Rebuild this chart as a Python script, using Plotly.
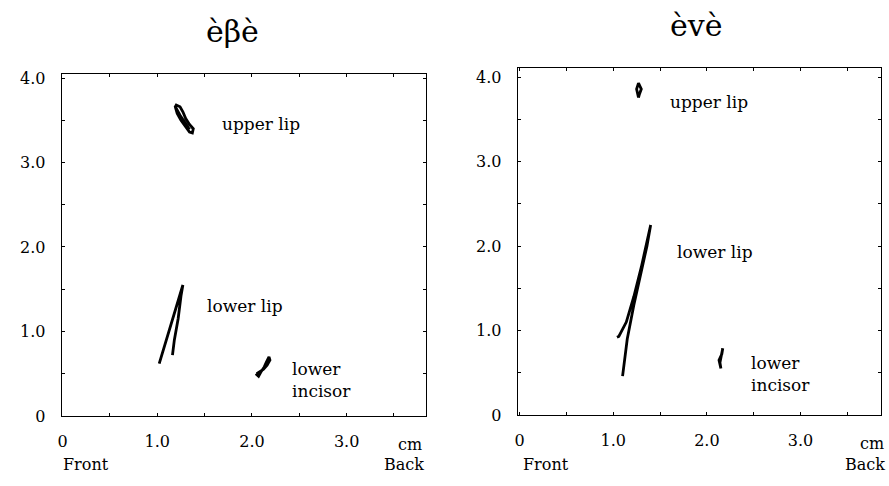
import plotly.graph_objects as go

# ---- data (cm) ----
titles = ["èβè", "èvè"]
xtick_vals = [0, 0.5, 1, 1.5, 2, 2.5, 3, 3.5]
xtick_text = ["0", "", "1.0", "", "2.0", "", "3.0", ""]
ytick_vals = [0, 0.5, 1, 1.5, 2, 2.5, 3, 3.5, 4]
ytick_text = ["0", "", "1.0", "", "2.0", "", "3.0", "", "4.0"]

# left panel (èβè)
b_upper_x = [1.19, 1.21, 1.25, 1.30, 1.34, 1.37, 1.38, 1.34, 1.30, 1.27, 1.24, 1.20, 1.19, 1.24, 1.29, 1.34]
b_upper_y = [3.66, 3.58, 3.50, 3.42, 3.36, 3.35, 3.40, 3.45, 3.52, 3.60, 3.66, 3.68, 3.66, 3.56, 3.47, 3.39]
b_lowlip_x = [1.02, 1.10, 1.18, 1.24, 1.27, 1.25, 1.22, 1.18, 1.16]
b_lowlip_y = [0.62, 0.92, 1.24, 1.45, 1.55, 1.42, 1.15, 0.90, 0.72]
b_inc_x = [2.04, 2.07, 2.10, 2.13, 2.15, 2.18, 2.19, 2.16, 2.12, 2.08, 2.05]
b_inc_y = [0.50, 0.47, 0.53, 0.58, 0.63, 0.70, 0.66, 0.60, 0.55, 0.52, 0.50]

# right panel (èvè)
v_upper_x = [1.27, 1.25, 1.27, 1.30, 1.28, 1.27]
v_upper_y = [3.76, 3.86, 3.93, 3.86, 3.80, 3.76]
v_lowlip_x = [1.10, 1.15, 1.22, 1.30, 1.36, 1.40, 1.37, 1.30, 1.22, 1.14, 1.06, 1.04]
v_lowlip_y = [0.46, 0.90, 1.30, 1.70, 2.00, 2.25, 2.10, 1.75, 1.40, 1.10, 0.93, 0.92]
v_inc_x = [2.15, 2.13, 2.16, 2.17, 2.15, 2.14, 2.15]
v_inc_y = [0.55, 0.65, 0.72, 0.79, 0.70, 0.62, 0.55]

FONT = "DejaVu Serif, serif"
line = dict(color="black", width=2.8)

fig = go.Figure()
for xs, ys in [(b_upper_x, b_upper_y), (b_lowlip_x, b_lowlip_y), (b_inc_x, b_inc_y)]:
    fig.add_trace(go.Scatter(x=xs, y=ys, mode="lines", line=line, xaxis="x", yaxis="y", showlegend=False))
for xs, ys in [(v_upper_x, v_upper_y), (v_lowlip_x, v_lowlip_y), (v_inc_x, v_inc_y)]:
    fig.add_trace(go.Scatter(x=xs, y=ys, mode="lines", line=line, xaxis="x2", yaxis="y2", showlegend=False))

W, H = 889, 486
def px(x):
    return x / W
def py(y):
    return 1 - y / H

def ax(lo, hi, rng, vals, text, anchor):
    return dict(domain=[lo, hi], range=rng, tickvals=vals, ticktext=text,
                showgrid=False, zeroline=False, showline=True, linecolor="black",
                linewidth=1, mirror="ticks", ticks="inside", ticklen=3,
                tickcolor="black", tickfont=dict(family=FONT, size=16, color="black"),
                anchor=anchor, fixedrange=True)

fig.update_layout(
    width=W, height=H, margin=dict(l=0, r=0, t=0, b=0),
    paper_bgcolor="white", plot_bgcolor="white",
    xaxis=ax(px(58), px(424), [-0.01, 3.84], xtick_vals, xtick_text, "y"),
    yaxis=ax(py(424), py(71), [0, 4.05], ytick_vals, ytick_text, "x"),
    xaxis2=ax(px(516), px(881), [-0.02, 3.86], xtick_vals, xtick_text, "y2"),
    yaxis2=ax(py(423), py(65), [0, 4.11], ytick_vals, ytick_text, "x2"),
)
fig.update_xaxes(ticklabelstandoff=11)
fig.update_yaxes(ticklabelstandoff=12)

anns = []
tf = dict(family=FONT, size=16, color="black")
lf = dict(family=FONT, size=17, color="black")
def lab(text, x, y, xr, yr):
    anns.append(dict(text=text, x=x, y=y, xref=xr, yref=yr, showarrow=False,
                     xanchor="left", yanchor="middle", font=lf, align="left"))
# left labels
lab("upper lip", 1.66, 3.46, "x", "y")
lab("lower lip", 1.50, 1.30, "x", "y")
lab("lower<br>incisor", 2.40, 0.42, "x", "y")
# right labels
lab("upper lip", 1.58, 3.71, "x2", "y2")
lab("lower lip", 1.66, 1.93, "x2", "y2")
lab("lower<br>incisor", 2.45, 0.49, "x2", "y2")

# titles
for t, xc, yc in [(titles[0], 230, 27), (titles[1], 695, 21)]:
    anns.append(dict(text=t, x=px(xc), y=py(yc), xref="paper", yref="paper", showarrow=False,
                     xanchor="center", yanchor="middle", font=dict(family=FONT, size=30, color="black")))
# cm / Front / Back
for t, xc, yc in [("cm", 408, 453), ("Front", 82, 474), ("Back", 402, 474),
                  ("cm", 872, 452), ("Front", 544, 474), ("Back", 865, 474)]:
    anns.append(dict(text=t, x=px(xc), y=py(yc), xref="paper", yref="paper", showarrow=False,
                     xanchor="center", yanchor="middle", font=tf))
fig.update_layout(annotations=anns)

fig.write_html("out.html", config={"displayModeBar": False},
               post_script="document.body.style.margin='0';document.body.style.overflow='hidden';")
